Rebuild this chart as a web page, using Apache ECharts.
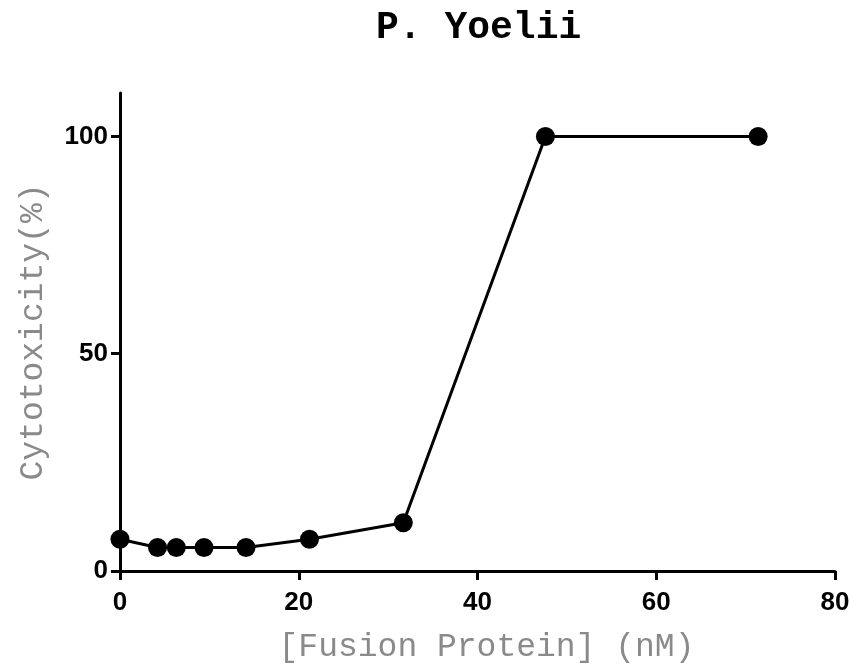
<!DOCTYPE html>
<html><head><meta charset="utf-8">
<script src="https://cdn.jsdelivr.net/npm/echarts@6/dist/echarts.min.js"></script>
<style>html,body{margin:0;padding:0;background:#fff}#c{width:851px;height:666px}</style>
</head><body><div id="c"></div>
<script>
var concentration = [0, 4.2, 6.3, 9.4, 14.1, 21.2, 31.7, 47.6, 71.4];
var cytotoxicity = [7.3, 5.4, 5.4, 5.4, 5.4, 7.3, 11.1, 100, 100];
var xTicks = [0, 20, 40, 60, 80];
var yTicks = [0, 50, 100];

var chart = echarts.init(document.getElementById('c'));
chart.setOption({
  animation: false,
  backgroundColor: '#fff',
  title: {
    text: 'P. Yoelii', left: 371, top: 4,
    textStyle: {fontFamily: 'Liberation Mono', fontWeight: 'bold', fontSize: 38, color: '#000'}
  },
  grid: {left: 120, right: 16, top: 93, bottom: 95, outerBoundsMode: 'none', containLabel: false},
  xAxis: {
    type: 'value', min: 0, max: 80, interval: 20,
    name: '[Fusion Protein] (nM)', nameLocation: 'middle', nameGap: 60,
    nameTextStyle: {fontFamily: 'Liberation Mono', fontSize: 33, color: '#8a8a8a', padding: [0, 0, 0, 18]},
    axisLine: {show: true, onZero: false, lineStyle: {color: '#000', width: 3}},
    axisTick: {show: true, length: 9, lineStyle: {color: '#000', width: 3}, customValues: xTicks},
    axisLabel: {fontFamily: 'Liberation Sans', fontWeight: 'bold', fontSize: 26, color: '#000', margin: 19, customValues: xTicks},
    splitLine: {show: false}
  },
  yAxis: {
    type: 'value', min: 0, max: 110, interval: 50,
    name: 'Cytotoxicity(%)', nameLocation: 'middle', nameGap: 70,
    nameTextStyle: {fontFamily: 'Liberation Mono', fontSize: 33, color: '#8a8a8a'},
    axisLine: {show: true, onZero: false, lineStyle: {color: '#000', width: 3}},
    axisTick: {show: true, length: 9, lineStyle: {color: '#000', width: 3}, customValues: yTicks},
    axisLabel: {fontFamily: 'Liberation Sans', fontWeight: 'bold', fontSize: 26, color: '#000', margin: 12, customValues: yTicks},
    splitLine: {show: false}
  },
  series: [{
    type: 'line',
    data: concentration.map(function (x, i) { return [x, cytotoxicity[i]]; }),
    symbol: 'circle', symbolSize: 19,
    itemStyle: {color: '#000'},
    lineStyle: {color: '#000', width: 3},
    clip: false
  }]
});
</script></body></html>
